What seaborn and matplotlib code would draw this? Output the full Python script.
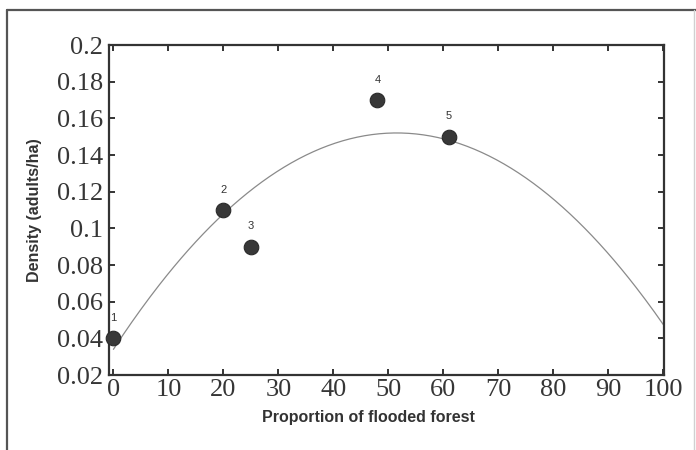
import numpy as np
import pandas as pd
import matplotlib
matplotlib.use("Agg")
import matplotlib.pyplot as plt
from matplotlib.lines import Line2D
import seaborn as sns

# Survey sites: share of flooded forest vs. adult density
site_ids = ["1", "2", "3", "4", "5"]
flooded_pct = [0, 20, 25, 48, 61]
density = [0.04, 0.11, 0.09, 0.17, 0.15]

# Quadratic trend (highest power first)
fit_coef = [-4.449e-5, 4.583e-3, 0.034]

x_ticks = [0, 10, 20, 30, 40, 50, 60, 70, 80, 90, 100]
y_ticks = [0.02, 0.04, 0.06, 0.08, 0.1, 0.12, 0.14, 0.16, 0.18, 0.2]
y_tick_labels = ["0.02", "0.04", "0.06", "0.08", "0.1", "0.12", "0.14", "0.16", "0.18", "0.2"]

sns.set_theme(style="white")
plt.rcParams["font.family"] = ["Liberation Sans", "DejaVu Sans"]

sites = pd.DataFrame({"site": site_ids, "flooded": flooded_pct, "density": density})
xs = np.linspace(0, 100, 301)
trend = pd.DataFrame({"flooded": xs, "density": np.polyval(fit_coef, xs)})

fig = plt.figure(figsize=(6.96, 4.5), dpi=100)
ax = fig.add_axes([109 / 696, 1 - 375 / 450, 555 / 696, 330 / 450])

# outer frame of the figure panel: strong left/top edges, faint right edge
fl, ft, fr = 7 / 696, 1 - 10 / 450, 694 / 696
fig.add_artist(Line2D([fl, fl], [0, ft], transform=fig.transFigure,
                      color="#555555", linewidth=1.6))
fig.add_artist(Line2D([fl, 1.0], [ft, ft], transform=fig.transFigure,
                      color="#555555", linewidth=1.6))
fig.add_artist(Line2D([fr, fr], [0, ft], transform=fig.transFigure,
                      color="#d0d0d0", linewidth=1.0))

sns.lineplot(data=trend, x="flooded", y="density", ax=ax, color="#8a8a8a",
             linewidth=0.9, zorder=2)
sns.scatterplot(data=sites, x="flooded", y="density", ax=ax, s=110,
                color="#383838", edgecolor="#2a2a2a", linewidth=0.8, zorder=3,
                clip_on=False)

for _, row in sites.iterrows():
    ax.annotate(row["site"], (row["flooded"], row["density"]),
                xytext=(0, 11), textcoords="offset points", ha="center",
                va="bottom", fontsize=8, color="#333333")

ax.set_xlim(-0.8, 100.1)
ax.set_ylim(0.02, 0.2)
ax.set_xticks(x_ticks)
ax.set_yticks(y_ticks)
ax.set_yticklabels(y_tick_labels)

ax.tick_params(axis="both", which="major", direction="in", length=4, width=1.4,
               color="#333333", labelsize=19, labelcolor="#363636",
               top=True, right=True, bottom=True, left=True)
ax.tick_params(axis="y", pad=4)
ax.tick_params(axis="x", pad=3)
for lbl in ax.get_xticklabels() + ax.get_yticklabels():
    lbl.set_fontfamily(["Liberation Serif", "DejaVu Serif"])

for sp in ax.spines.values():
    sp.set_visible(True)
    sp.set_color("#333333")
    sp.set_linewidth(1.6)

ax.set_xlabel("Proportion of flooded forest", fontsize=11.5, fontweight="bold",
              color="#333333")
ax.set_ylabel("Density (adults/ha)", fontsize=11.5, fontweight="bold",
              color="#333333")
ax.xaxis.set_label_coords(0.467, -0.105)
ax.yaxis.set_label_coords(-0.12, 0.5)

fig.savefig("out.png", dpi=100, facecolor="white")
